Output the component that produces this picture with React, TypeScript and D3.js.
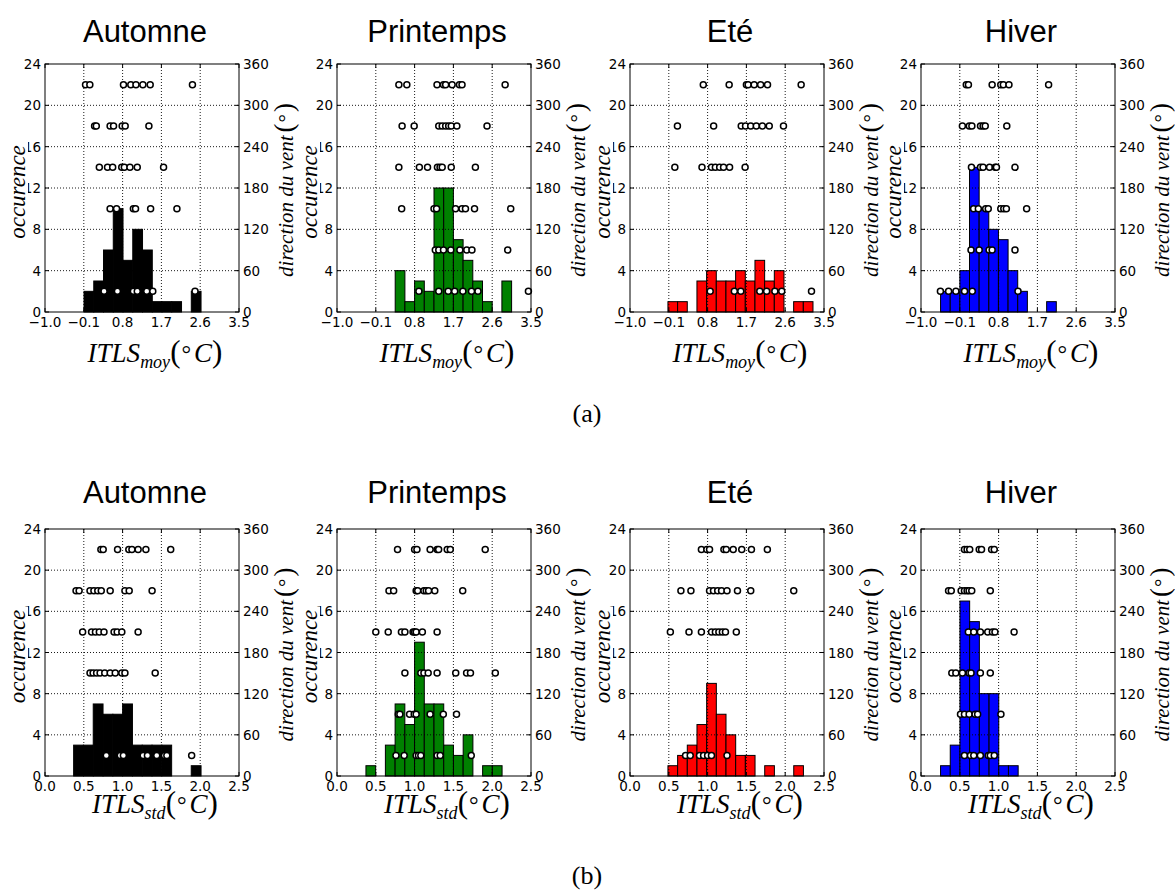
import React from "react";
import * as d3 from "d3";

const seasons = ["Automne", "Printemps", "Eté", "Hiver"];
const seasonColors = ["#000000", "#008000", "#ff0000", "#0000ff"];

const moyTicks = [-1.0, -0.1, 0.8, 1.7, 2.6, 3.5];
const stdTicks = [0.0, 0.5, 1.0, 1.5, 2.0, 2.5];
const occTicks = [0, 4, 8, 12, 16, 20, 24];
const dirTicks = [0, 60, 120, 180, 240, 300, 360];

// histogram bins (ITLS_moy)
const moyBinStart = [-0.095, 0.35, -0.12, -0.546];
const moyBinWidth = [0.2262, 0.225, 0.2243, 0.2237];
const moyCountsAutomne = [2, 3, 6, 10, 5, 8, 6, 1, 1, 1, 0, 2];
const moyCountsPrintemps = [4, 1, 3, 2, 12, 12, 7, 5, 3, 1, 0, 3];
const moyCountsEte = [1, 1, 0, 3, 4, 3, 3, 4, 3, 5, 3, 4, 0, 1, 1];
const moyCountsHiver = [2, 2, 4, 14, 10, 8, 7, 4, 2, 0, 0, 1];

// histogram bins (ITLS_std)
const stdBinStart = [0.369, 0.373, 0.489, 0.252];
const stdBinWidth = [0.1263, 0.1253, 0.1247, 0.125];
const stdCountsAutomne = [3, 3, 7, 6, 6, 7, 3, 3, 3, 3, 0, 0, 1];
const stdCountsPrintemps = [1, 0, 3, 7, 5, 13, 7, 7, 3, 2, 4, 0, 1, 1];
const stdCountsEte = [1, 2, 3, 5, 9, 6, 4, 2, 2, 0, 1, 0, 0, 1];
const stdCountsHiver = [1, 3, 17, 15, 8, 8, 1, 1];

// wind direction (deg) vs ITLS value
const windAutomneMoy: [number, number[]][] = [
  [330, [-0.06, 0.04, 0.82, 0.99, 1.11, 1.27, 1.44, 2.42]],
  [270, [0.15, 0.19, 0.51, 0.59, 0.79, 0.86, 1.41]],
  [210, [0.26, 0.45, 0.57, 0.78, 0.84, 0.97, 1.14, 1.75]],
  [150, [0.51, 0.66, 1.05, 1.1, 1.45, 2.06]],
  [30, [0.37, 0.68, 1.05, 1.14, 1.36, 1.5, 2.48]],
];
const windPrintempsMoy: [number, number[]][] = [
  [330, [0.435, 0.62, 1.32, 1.47, 1.52, 1.67, 1.84, 1.9, 2.9]],
  [270, [0.51, 0.79, 1.36, 1.44, 1.52, 1.59, 1.65, 1.78, 2.48]],
  [210, [0.435, 0.91, 1.1, 1.33, 1.39, 1.44, 1.65, 2.21]],
  [150, [0.5, 1.25, 1.31, 1.75, 1.9, 1.98, 2.19, 3.03]],
  [90, [1.28, 1.36, 1.47, 1.64, 1.85, 2.01, 2.13, 2.96]],
  [30, [0.9, 1.36, 1.58, 1.73, 1.92, 2.12, 2.27, 3.44]],
];
const windEteMoy: [number, number[]][] = [
  [330, [0.7, 1.3, 1.7, 1.74, 1.88, 2.03, 2.19, 2.97]],
  [270, [0.1, 0.94, 1.58, 1.68, 1.8, 1.93, 2.07, 2.23, 2.56]],
  [210, [0.04, 0.67, 0.89, 0.98, 1.08, 1.17, 1.31, 1.67]],
  [30, [0.86, 1.42, 1.57, 2.01, 2.17, 2.36, 2.52, 3.21]],
];
const windHiverMoy: [number, number[]][] = [
  [330, [0.05, 0.1, 0.65, 0.85, 0.91, 1.04, 1.96]],
  [270, [-0.04, 0.12, 0.18, 0.38, 0.44, 0.49, 0.99]],
  [210, [0.17, 0.38, 0.44, 0.59, 0.72, 0.75, 1.18]],
  [150, [0.22, 0.33, 0.5, 0.56, 0.85, 0.92, 0.98, 1.45]],
  [90, [0.16, 0.35, 0.58, 0.65, 1.18]],
  [30, [-0.55, -0.36, -0.19, 0.01, 0.19, 1.25]],
];
const windAutomneStd: [number, number[]][] = [
  [330, [0.72, 0.75, 0.935, 1.08, 1.12, 1.2, 1.3, 1.62]],
  [270, [0.4, 0.44, 0.58, 0.63, 0.68, 0.725, 0.84, 1.03, 1.085, 1.38]],
  [210, [0.485, 0.6, 0.65, 0.7, 0.76, 0.89, 0.93, 0.99, 1.2]],
  [150, [0.58, 0.62, 0.665, 0.71, 0.77, 0.84, 0.905, 0.99, 1.03, 1.42]],
  [30, [0.79, 0.97, 1.01, 1.265, 1.32, 1.44, 1.54, 1.57, 1.89]],
];
const windPrintempsStd: [number, number[]][] = [
  [330, [0.78, 1.0, 1.03, 1.2, 1.29, 1.31, 1.42, 1.46, 1.91]],
  [270, [0.67, 0.73, 1.02, 1.04, 1.12, 1.15, 1.18, 1.26, 1.62]],
  [210, [0.5, 0.66, 0.83, 0.875, 0.98, 1.0, 1.02, 1.1, 1.29]],
  [150, [0.875, 1.08, 1.12, 1.175, 1.29, 1.53, 1.67, 1.72, 2.04]],
  [90, [0.79, 0.81, 0.935, 0.995, 1.02, 1.2, 1.37, 1.54]],
  [30, [0.76, 0.866, 1.02, 1.05, 1.08, 1.29, 1.33, 1.73]],
];
const windEteStd: [number, number[]][] = [
  [330, [0.92, 0.99, 1.025, 1.21, 1.24, 1.33, 1.44, 1.565, 1.77]],
  [270, [0.656, 0.785, 1.025, 1.076, 1.13, 1.18, 1.25, 1.385, 1.556, 2.11]],
  [210, [0.52, 0.76, 0.92, 1.05, 1.1, 1.145, 1.19, 1.23, 1.37]],
  [30, [0.716, 0.776, 0.896, 0.948, 1.0, 1.05, 1.25]],
];
const windHiverStd: [number, number[]][] = [
  [330, [0.56, 0.594, 0.628, 0.75, 0.78, 0.91, 0.944]],
  [270, [0.355, 0.39, 0.517, 0.56, 0.594, 0.62, 0.654, 0.893]],
  [210, [0.61, 0.68, 0.765, 0.86, 0.92, 0.953, 1.2]],
  [150, [0.397, 0.449, 0.534, 0.62, 0.645, 0.765, 0.893]],
  [90, [0.509, 0.56, 0.62, 0.697, 0.73, 1.03]],
  [30, [0.56, 0.637, 0.68, 0.765, 0.868, 0.893, 0.944]],
];

const moyCounts = [moyCountsAutomne, moyCountsPrintemps, moyCountsEte, moyCountsHiver];
const stdCounts = [stdCountsAutomne, stdCountsPrintemps, stdCountsEte, stdCountsHiver];
const moyWind = [windAutomneMoy, windPrintempsMoy, windEteMoy, windHiverMoy];
const stdWind = [windAutomneStd, windPrintempsStd, windEteStd, windHiverStd];

const panelLefts = [45, 337, 630, 921];
const panelW = 194;
const rows = [
  { top: 64, h: 248, domain: [-1, 3.5], ticks: moyTicks, sub: "moy", starts: moyBinStart, widths: moyBinWidth, counts: moyCounts, wind: moyWind, titleY: 42, xlabY: 362, tag: "(a)", tagY: 422 },
  { top: 529, h: 247, domain: [0, 2.5], ticks: stdTicks, sub: "std", starts: stdBinStart, widths: stdBinWidth, counts: stdCounts, wind: stdWind, titleY: 503, xlabY: 813, tag: "(b)", tagY: 884 },
];

const tickFont = "DejaVu Sans, Verdana, sans-serif";
const serif = "Liberation Serif, Times New Roman, serif";
const fmt1 = d3.format(".1f");

function Panel({ row, i }: { row: any; i: number }) {
  const L = panelLefts[i];
  const R = L + panelW;
  const T = row.top;
  const B = row.top + row.h;
  const x = d3.scaleLinear().domain(row.domain).range([L, R]);
  const y = d3.scaleLinear().domain([0, 24]).range([B, T]);
  const y2 = d3.scaleLinear().domain([0, 360]).range([B, T]);
  const color = seasonColors[i];
  const counts: number[] = row.counts[i];
  const start: number = row.starts[i];
  const bw: number = row.widths[i];
  const bins = counts.map((c, k) => ({ x0: start + k * bw, x1: start + (k + 1) * bw, c }));
  const pts: { v: number; d: number }[] = [];
  (row.wind[i] as [number, number[]][]).forEach(([d, vals]) => vals.forEach((v) => pts.push({ v, d })));
  const midY = (T + B) / 2;
  const tl = 4;
  return (
    <g>
      <text x={(L + R) / 2 + 3} y={row.titleY} textAnchor="middle" fontFamily="Liberation Sans, Arial, sans-serif" fontSize={31}>
        {seasons[i]}
      </text>
      {bins.filter((b) => b.c > 0).map((b, k) => (
        <rect key={k} x={x(b.x0)} y={y(b.c)} width={x(b.x1) - x(b.x0)} height={y(0) - y(b.c)} fill={color} stroke="#000" strokeWidth={1} />
      ))}
      {row.ticks.slice(1, -1).map((t: number) => (
        <line key={"gx" + t} x1={x(t)} x2={x(t)} y1={T} y2={B} stroke="#000" strokeWidth={0.9} strokeDasharray="1,2" />
      ))}
      {occTicks.slice(1, -1).map((t) => (
        <line key={"gy" + t} x1={L} x2={R} y1={y(t)} y2={y(t)} stroke="#000" strokeWidth={0.9} strokeDasharray="1,2" />
      ))}
      {row.ticks.map((t: number) => (
        <g key={"tx" + t}>
          <line x1={x(t)} x2={x(t)} y1={B} y2={B - tl} stroke="#000" />
          <line x1={x(t)} x2={x(t)} y1={T} y2={T + tl} stroke="#000" />
          <text x={x(t)} y={B + 15} textAnchor="middle" fontFamily={tickFont} fontSize={13.5}>{fmt1(t)}</text>
        </g>
      ))}
      {occTicks.map((t) => (
        <g key={"ty" + t}>
          <line x1={L} x2={L + tl} y1={y(t)} y2={y(t)} stroke="#000" />
          <text x={L - 4} y={y(t) + 5} textAnchor="end" fontFamily={tickFont} fontSize={13.5}>{t}</text>
        </g>
      ))}
      {dirTicks.map((t) => (
        <g key={"tr" + t}>
          <line x1={R} x2={R - tl} y1={y2(t)} y2={y2(t)} stroke="#000" />
          <text x={R + 4} y={y2(t) + 5} textAnchor="start" fontFamily={tickFont} fontSize={13.5}>{t}</text>
        </g>
      ))}
      {pts.map((p, k) => (
        <circle key={"p" + k} cx={x(p.v)} cy={y2(p.d)} r={3} fill="#fff" stroke="#000" strokeWidth={1.5} />
      ))}
      <rect x={L} y={T} width={panelW} height={row.h} fill="none" stroke="#000" strokeWidth={1} />
      <rect x={L - 37} y={midY - 46} width={20} height={100} fill="#fff" />
      <text transform={`translate(${L - 20},${midY + 4}) rotate(-90)`} textAnchor="middle" fontFamily={serif} fontStyle="italic" fontSize={23}>
        occurence
      </text>
      <text transform={`translate(${R + 54},${midY + 2}) rotate(-90)`} textAnchor="middle" fontFamily={serif} fontSize={21}>
        <tspan fontStyle="italic">direction du vent</tspan>
        <tspan fontSize={27} dx={3}>(</tspan>
        <tspan fontSize={21} dx={1}>°</tspan>
        <tspan fontSize={27} dx={2}>)</tspan>
      </text>
      <text x={L + 110} y={row.xlabY} textAnchor="middle" fontFamily={serif} fontSize={27}>
        <tspan fontStyle="italic">ITLS</tspan>
        <tspan fontStyle="italic" fontSize={18} dy={6}>{row.sub}</tspan>
        <tspan fontSize={31} dy={-6}>(</tspan>
        <tspan fontSize={24} dx={1}>°</tspan>
        <tspan fontStyle="italic" dx={3}>C</tspan>
        <tspan fontSize={31}>)</tspan>
      </text>
    </g>
  );
}

export default function App() {
  return (
    <svg width={1175} height={893} style={{ position: "absolute", left: 0, top: 0, background: "#fff" }}>
      <rect x={0} y={0} width={1175} height={893} fill="#fff" />
      {rows.map((row, r) => (
        <g key={r}>
          {seasons.map((_, i) => (
            <Panel key={i} row={row} i={i} />
          ))}
          <text x={587} y={row.tagY} textAnchor="middle" fontFamily={serif} fontSize={26}>{row.tag}</text>
        </g>
      ))}
    </svg>
  );
}
